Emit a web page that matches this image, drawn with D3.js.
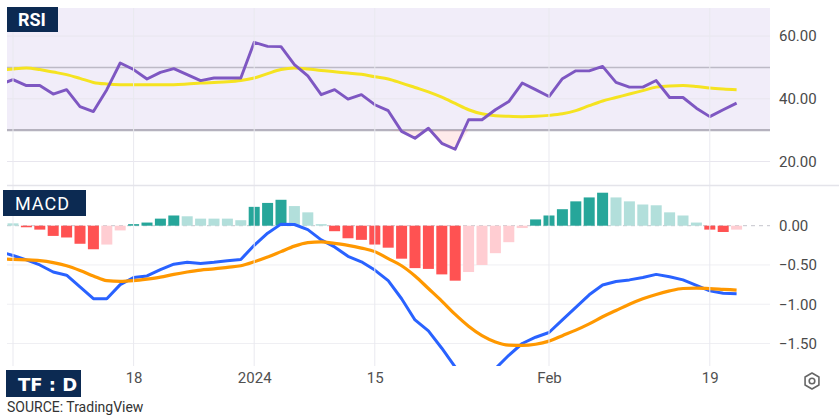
<!DOCTYPE html>
<html>
<head>
<meta charset="utf-8">
<script src="https://d3js.org/d3.v7.min.js"></script>
<style>
  body { margin: 0; background: #fff; }
  svg { display: block; font-family: Roboto, "Noto Sans", sans-serif; }
</style>
</head>
<body>
<div id="chart"></div>
<script>
// one value per trading day, index 0 is the day just off the left edge
var rsi = [44.5, 46.1, 44.2, 44.2, 41.5, 42.9, 37.5, 35.9, 42.9, 51.4,
           49.3, 46.3, 48.4, 49.6, 47.7, 45.8, 46.6, 46.6, 46.6, 58.0,
           56.7, 56.6, 50.9, 47.3, 41.3, 42.9, 39.9, 41.3, 38.1, 36.2,
           29.6, 27.4, 30.6, 25.8, 23.9, 33.3, 33.3, 36.5, 39.1, 45.0,
           42.9, 40.7, 46.4, 48.9, 48.9, 50.3, 45.2, 43.7, 43.7, 45.8,
           40.4, 40.4, 37.0, 34.3, 36.5, 38.6];
var rsiMa = [49.0, 49.5, 49.8, 49.3, 48.5, 47.7, 46.5, 45.2, 44.7, 44.5,
             44.5, 44.5, 44.5, 44.5, 44.7, 45.0, 45.2, 45.4, 45.8, 46.6,
             48.0, 49.3, 49.8, 49.5, 49.0, 48.6, 48.2, 47.8, 47.0, 46.3,
             45.0, 43.6, 42.2, 40.5, 38.5, 36.5, 35.2, 34.6, 34.4, 34.3,
             34.4, 34.7, 35.2, 36.2, 37.8, 39.3, 40.4, 41.5, 42.6, 43.7,
             44.1, 44.2, 43.9, 43.4, 43.1, 42.9];
var macd = [-0.33, -0.38, -0.435, -0.50, -0.59, -0.63, -0.78, -0.93, -0.93, -0.75,
            -0.66, -0.64, -0.56, -0.49, -0.465, -0.48, -0.465, -0.445, -0.43, -0.25,
            -0.095, 0.02, 0.015, -0.05, -0.18, -0.27, -0.39, -0.46, -0.565, -0.70,
            -0.93, -1.20, -1.34, -1.56, -1.80, -1.95, -1.95, -1.82, -1.65, -1.50,
            -1.42, -1.36, -1.20, -1.04, -0.88, -0.755, -0.71, -0.69, -0.66, -0.62,
            -0.65, -0.69, -0.76, -0.83, -0.86, -0.865];
var signal = [-0.42, -0.43, -0.435, -0.445, -0.47, -0.51, -0.57, -0.64, -0.70, -0.71,
              -0.70, -0.68, -0.655, -0.62, -0.59, -0.565, -0.55, -0.53, -0.51, -0.46,
              -0.40, -0.33, -0.26, -0.215, -0.205, -0.225, -0.25, -0.285, -0.33, -0.42,
              -0.51, -0.64, -0.80, -0.96, -1.13, -1.28, -1.40, -1.48, -1.52, -1.525,
              -1.51, -1.47, -1.40, -1.33, -1.25, -1.16, -1.08, -1.00, -0.93, -0.875,
              -0.83, -0.80, -0.795, -0.80, -0.81, -0.82];
var hist = [0.05, 0.03, -0.02, -0.05, -0.13, -0.15, -0.23, -0.30, -0.24, -0.06,
            0.02, 0.04, 0.09, 0.13, 0.12, 0.09, 0.09, 0.09, 0.07, 0.24,
            0.29, 0.33, 0.25, 0.17, 0.02, -0.07, -0.16, -0.18, -0.24, -0.28,
            -0.42, -0.54, -0.55, -0.62, -0.70, -0.59, -0.50, -0.35, -0.21, -0.03,
            0.08, 0.13, 0.21, 0.31, 0.36, 0.42, 0.36, 0.31, 0.27, 0.26,
            0.17, 0.13, 0.04, -0.05, -0.08, -0.05];

var tickIdx = [1, 10, 19, 28, 41, 53];
var tickLabels = ["", "18", "2024", "15", "Feb", "19"];
var rsiTicks = [20, 40, 60];
var macdTicks = [0, -0.5, -1, -1.5];

var width = 839, height = 416;
var left = 7, right = 770;
var rsiTop = 8, rsiBottom = 185, macdTop = 186, macdBottom = 366;

var svg = d3.select("#chart").append("svg")
  .attr("width", width)
  .attr("height", height);

var x = d3.scaleLinear().domain([0, rsi.length - 1]).range([-0.4, 736.6]);
var yR = d3.scaleLinear().domain([20, 60]).range([161.5, 36]);
var yM = d3.scaleLinear().domain([-1.5, 0]).range([343.5, 225.7]);

var defs = svg.append("defs");
defs.append("clipPath").attr("id", "clipR").append("rect")
  .attr("x", left).attr("y", rsiTop).attr("width", right - left).attr("height", rsiBottom - rsiTop);
defs.append("clipPath").attr("id", "clipM").append("rect")
  .attr("x", left).attr("y", macdTop).attr("width", right - left).attr("height", macdBottom - macdTop);

var gR = svg.append("g").attr("clip-path", "url(#clipR)");
var gM = svg.append("g").attr("clip-path", "url(#clipM)");

// ---- RSI panel ----
gR.append("rect")
  .attr("x", left).attr("width", right - left)
  .attr("y", yR(70)).attr("height", yR(30) - yR(70))
  .attr("fill", "#f1edf9");

gR.selectAll(".hgrid").data(rsiTicks).enter().append("line")
  .attr("x1", left).attr("x2", right)
  .attr("y1", function(d) { return yR(d); }).attr("y2", function(d) { return yR(d); })
  .attr("stroke", "#e8e6ee").attr("stroke-width", 1);

// vertical grid through both panels
svg.selectAll(".vgrid").data(tickIdx).enter().append("line")
  .attr("x1", function(d) { return x(d); }).attr("x2", function(d) { return x(d); })
  .attr("y1", rsiTop).attr("y2", macdBottom)
  .attr("stroke", "#e9e9ef").attr("stroke-width", 1);

gR.append("line").attr("x1", left).attr("x2", right)
  .attr("y1", yR(50)).attr("y2", yR(50))
  .attr("stroke", "#bdbac6").attr("stroke-width", 1.5);
gR.append("line").attr("x1", left).attr("x2", right)
  .attr("y1", yR(30)).attr("y2", yR(30))
  .attr("stroke", "#b5b2be").attr("stroke-width", 2.2);

// oversold fill
gR.append("path")
  .datum(rsi)
  .attr("fill", "rgba(255,82,82,0.12)")
  .attr("d", d3.area()
    .x(function(d, i) { return x(i); })
    .y0(yR(30))
    .y1(function(d) { return yR(Math.min(d, 30)); }));

gR.append("path")
  .datum(rsiMa)
  .attr("fill", "none")
  .attr("stroke", "#f5e321")
  .attr("stroke-width", 3)
  .attr("d", d3.line().curve(d3.curveMonotoneX)
    .x(function(d, i) { return x(i); })
    .y(function(d) { return yR(d); }));

gR.append("path")
  .datum(rsi)
  .attr("fill", "none")
  .attr("stroke", "#7e57c2")
  .attr("stroke-width", 2.9)
  .attr("stroke-linejoin", "round")
  .attr("d", d3.line()
    .x(function(d, i) { return x(i); })
    .y(function(d) { return yR(d); }));

// separator
svg.append("line")
  .attr("x1", left).attr("x2", width)
  .attr("y1", 185.5).attr("y2", 185.5)
  .attr("stroke", "#e4e4ea").attr("stroke-width", 1.5);

// ---- MACD panel ----
gM.selectAll(".mgrid").data(macdTicks.slice(1)).enter().append("line")
  .attr("x1", left).attr("x2", right)
  .attr("y1", function(d) { return yM(d); }).attr("y2", function(d) { return yM(d); })
  .attr("stroke", "#efeff3").attr("stroke-width", 1);

gM.append("line")
  .attr("x1", left).attr("x2", right)
  .attr("y1", yM(0)).attr("y2", yM(0))
  .attr("stroke", "#c4c4cc").attr("stroke-width", 1)
  .attr("stroke-dasharray", "4,4");

var barW = 11;
gM.selectAll(".bar").data(hist).enter().append("rect")
  .attr("x", function(d, i) { return x(i) - barW / 2; })
  .attr("width", barW)
  .attr("y", function(d) { return d >= 0 ? yM(d) : yM(0); })
  .attr("height", function(d) { return Math.abs(yM(d) - yM(0)); })
  .attr("fill", function(d, i) {
    var prev = i > 0 ? hist[i - 1] : d;
    if (d >= 0) return prev < d ? "#26a69a" : "#b2dfdb";
    return prev < d ? "#ffcdd2" : "#ff5252";
  });

gM.append("path")
  .datum(macd)
  .attr("fill", "none")
  .attr("stroke", "#2962ff")
  .attr("stroke-width", 3)
  .attr("stroke-linejoin", "round")
  .attr("d", d3.line()
    .x(function(d, i) { return x(i); })
    .y(function(d) { return yM(d); }));

gM.append("path")
  .datum(signal)
  .attr("fill", "none")
  .attr("stroke", "#ff9800")
  .attr("stroke-width", 3.2)
  .attr("d", d3.line().curve(d3.curveMonotoneX)
    .x(function(d, i) { return x(i); })
    .y(function(d) { return yM(d); }));

// ---- axes ----
var fmt = d3.format(".2f");
svg.append("g")
  .attr("transform", "translate(776,0)")
  .call(d3.axisRight(yR).tickValues(rsiTicks).tickFormat(fmt).tickSize(0).tickPadding(3))
  .call(function(g) { g.select(".domain").remove(); })
  .selectAll("text")
    .attr("font-family", "Roboto, sans-serif").attr("font-size", 15).attr("fill", "#4a4a4a");

svg.append("g")
  .attr("transform", "translate(776,0)")
  .call(d3.axisRight(yM).tickValues(macdTicks).tickFormat(fmt).tickSize(0).tickPadding(3))
  .call(function(g) { g.select(".domain").remove(); })
  .selectAll("text")
    .attr("font-family", "Roboto, sans-serif").attr("font-size", 15).attr("fill", "#4a4a4a");

svg.append("g")
  .attr("transform", "translate(0," + 372 + ")")
  .call(d3.axisBottom(x).tickValues(tickIdx)
    .tickFormat(function(d, i) { return tickLabels[i]; })
    .tickSize(0).tickPadding(0))
  .call(function(g) { g.select(".domain").remove(); })
  .selectAll("text")
    .attr("font-family", "Roboto, sans-serif").attr("font-size", 15).attr("fill", "#505050");

// settings gear
var gear = svg.append("g").attr("transform", "translate(812,381)");
var hex = d3.range(6).map(function(k) {
  var a = Math.PI / 3 * k + Math.PI / 6;
  return [8 * Math.cos(a), 8 * Math.sin(a)];
});
gear.append("polygon")
  .attr("points", hex.map(function(p) { return p.join(","); }).join(" "))
  .attr("fill", "none").attr("stroke", "#666").attr("stroke-width", 1.6)
  .attr("stroke-linejoin", "round");
gear.append("circle").attr("r", 2.8)
  .attr("fill", "none").attr("stroke", "#666").attr("stroke-width", 1.6);

// ---- labels ----
svg.append("rect").attr("x", 7).attr("y", 7).attr("width", 51).attr("height", 25).attr("fill", "#0c2a52");
svg.append("text").attr("x", 18).attr("y", 26)
  .attr("font-size", 18).attr("font-weight", "bold").attr("fill", "#fff")
  .text("RSI");

svg.append("rect").attr("x", 3).attr("y", 190).attr("width", 83).attr("height", 26).attr("fill", "#0c2a52");
svg.append("text").attr("x", 15).attr("y", 210)
  .attr("font-size", 18).attr("letter-spacing", 1).attr("fill", "#fff")
  .text("MACD");

svg.append("rect").attr("x", 6).attr("y", 370).attr("width", 75).attr("height", 27).attr("fill", "#0c2a52");
svg.append("text").attr("x", 18).attr("y", 390.5)
  .attr("font-family", "DejaVu Sans, sans-serif")
  .attr("font-size", 18).attr("font-weight", "bold").attr("fill", "#fff")
  .text("TF : D");

svg.append("text").attr("x", 7).attr("y", 412)
  .attr("font-size", 14).attr("fill", "#333")
  .text("SOURCE: TradingView");
</script>
</body>
</html>
